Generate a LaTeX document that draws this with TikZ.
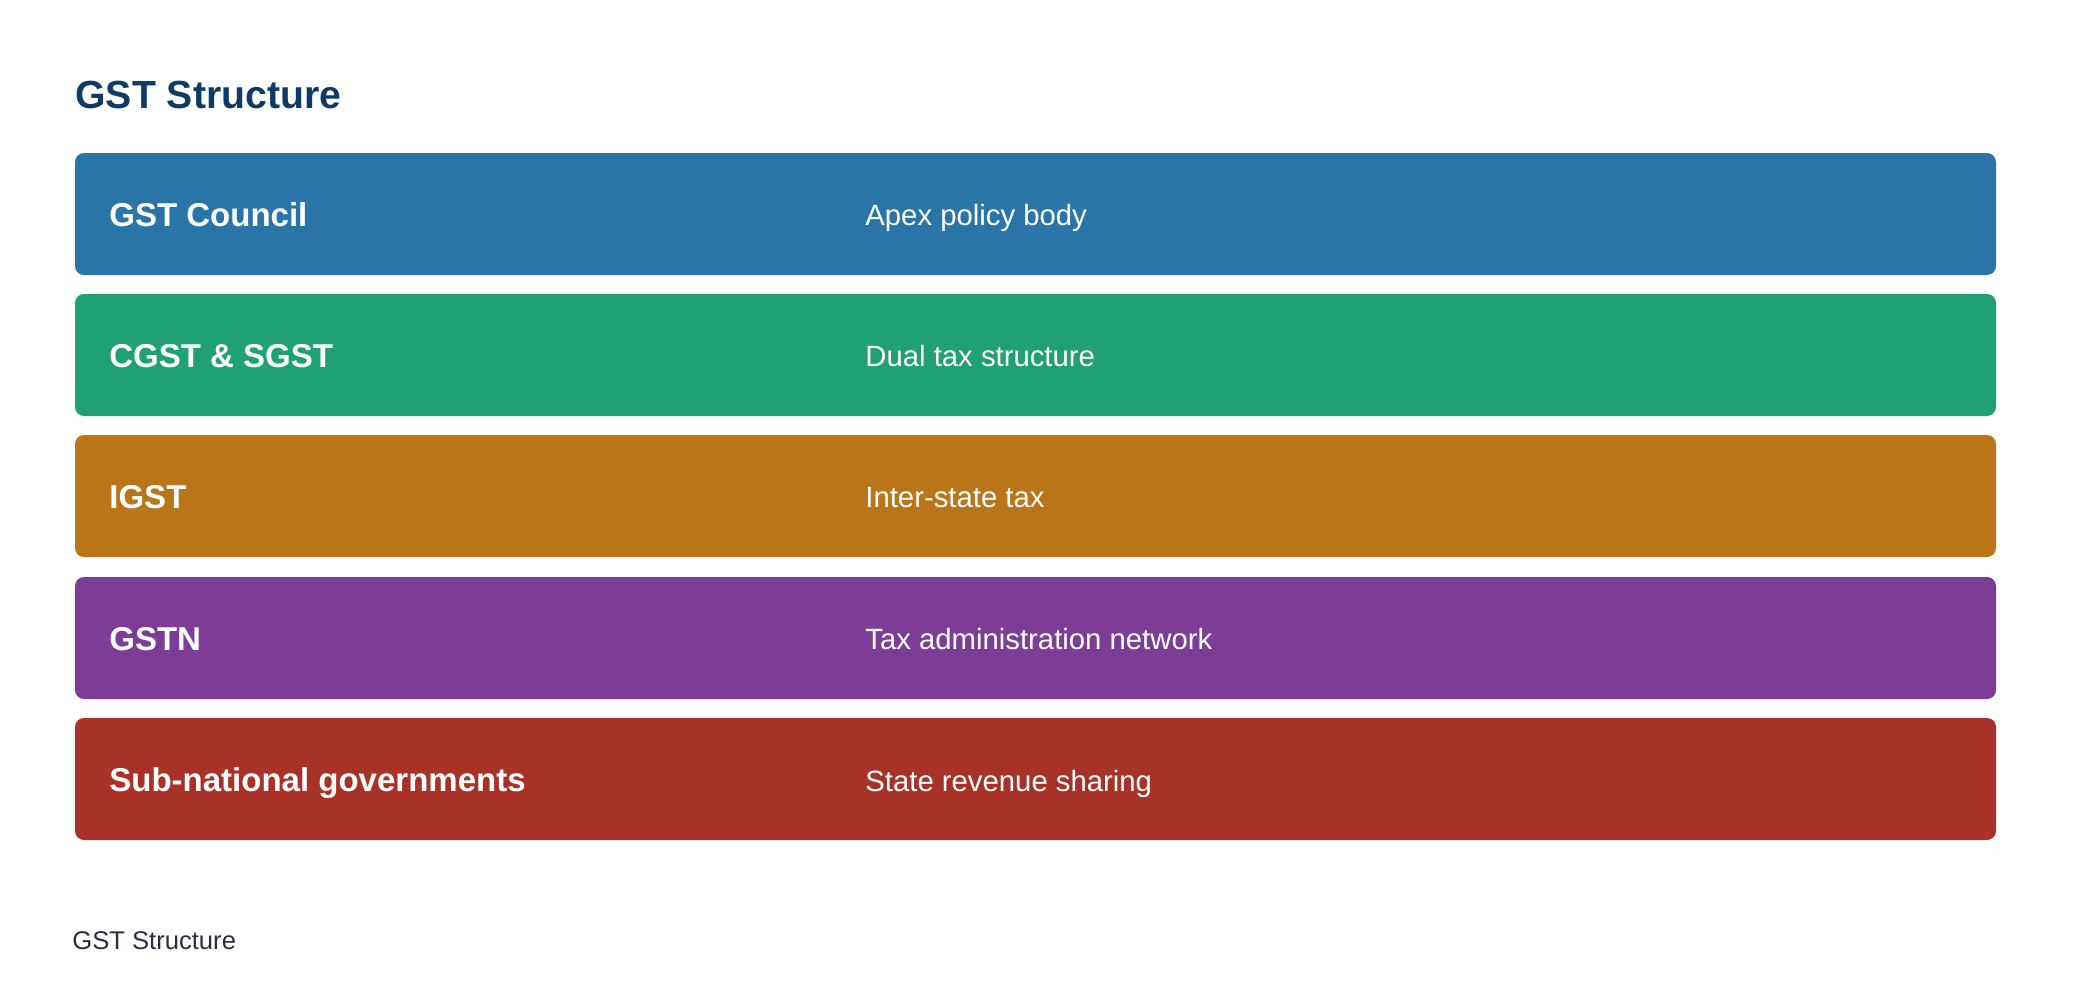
\documentclass[tikz,border=0pt]{standalone}
\usepackage{fontspec}
\setmainfont{Liberation Sans}
\definecolor{cTitle}{HTML}{0D3B66}
\definecolor{cFoot}{HTML}{2D2D3F}
\definecolor{cBlue}{HTML}{2A75A8}
\definecolor{cGreen}{HTML}{1FA075}
\definecolor{cOrange}{HTML}{BB7519}
\definecolor{cPurple}{HTML}{7D3D97}
\definecolor{cRed}{HTML}{A83228}
\begin{document}
\begin{tikzpicture}[x=0.5pt,y=-0.5pt,
  bar/.style={rectangle, rounded corners=4.5pt, minimum width=960.5pt, minimum height=61pt, inner sep=0pt, draw=none},
  lab/.style={anchor=base west, inner sep=0pt, text=white, font=\fontsize{16.5}{20}\selectfont\bfseries},
  desc/.style={anchor=base west, inner sep=0pt, text=white, font=\fontsize{14.65}{18}\selectfont}]
\useasboundingbox[fill=white] (0,0) rectangle (2080,1006);
\node[anchor=base west, inner sep=0pt, text=cTitle, font=\fontsize{19.6}{23}\selectfont\bfseries] (title) at (75,109) {GST Structure};
% bars
\node[bar, fill=cBlue]   (b1) at (1035.5,214) {};
\node[bar, fill=cGreen]  (b2) at (1035.5,355) {};
\node[bar, fill=cOrange] (b3) at (1035.5,496) {};
\node[bar, fill=cPurple] (b4) at (1035.5,638) {};
\node[bar, fill=cRed]    (b5) at (1035.5,779) {};
% labels
\node[lab] (l1) at (109,226) {GST Council};
\node[lab] (l2) at (109,367) {CGST \& SGST};
\node[lab] (l3) at (109,508) {IGST};
\node[lab] (l4) at (109,650) {GSTN};
\node[lab] (l5) at (109,791) {Sub-national governments};
% descriptions
\node[desc] (d1) at (865,225.5) {Apex policy body};
\node[desc] (d2) at (865,366.5) {Dual tax structure};
\node[desc] (d3) at (865,507.5) {Inter-state tax};
\node[desc] (d4) at (865,649.5) {Tax administration network};
\node[desc] (d5) at (865,791.5) {State revenue sharing};
% footer
\node[anchor=base west, inner sep=0pt, text=cFoot, font=\fontsize{12.8}{16}\selectfont] (foot) at (72,949) {GST Structure};
\end{tikzpicture}
\end{document}
